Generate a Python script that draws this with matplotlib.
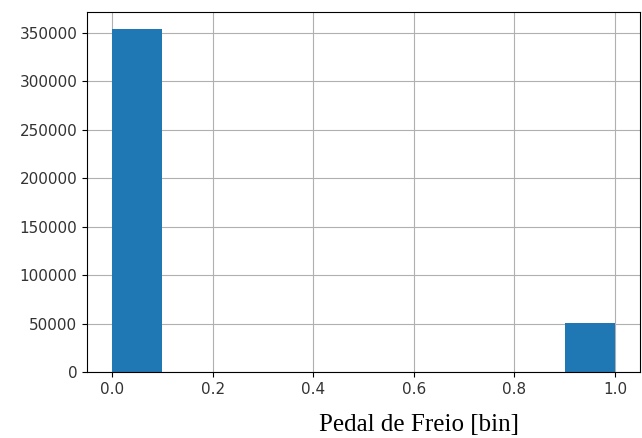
import numpy as np
from matplotlib import pyplot as plt

# histogram of the binary brake pedal signal, 10 bins over [0, 1]
bin_edges = np.linspace(0.0, 1.0, 11)
bin_counts = [354000, 0, 0, 0, 0, 0, 0, 0, 0, 50500]
x_label = "Pedal de Freio [bin]"

fig = plt.figure(figsize=(6.42, 4.38), dpi=100)
ax = fig.add_axes([0.1355, 0.1507, 0.8615, 0.822])

ax.hist(bin_edges[:-1], bins=bin_edges, weights=bin_counts, color="#1f77b4")
ax.set_axisbelow(True)
ax.grid(True, color="#b0b0b0", linewidth=0.8)

ax.set_yticks(np.arange(0, 350001, 50000))
ax.set_xticks(np.arange(0, 1.01, 0.2))
ax.tick_params(labelsize=11, colors="black", labelcolor="#333333")

fig.text(0.652, 0.03, x_label, family="Liberation Serif", fontsize=18,
         ha="center", va="center")

fig.savefig("out.png", dpi=100)
